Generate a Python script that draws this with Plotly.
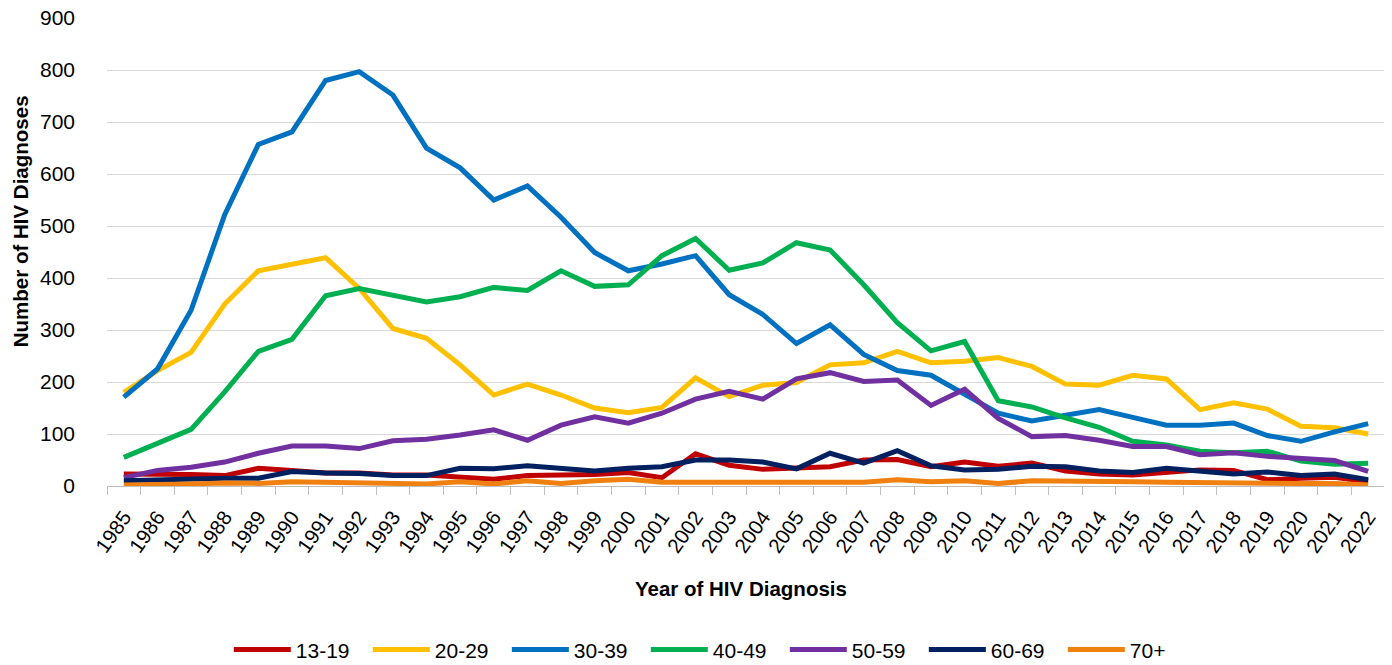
import plotly.graph_objects as go

years = [str(y) for y in range(1985, 2023)]

s13_19 = [23, 23, 22, 20, 34, 30, 25, 25, 21, 21, 17, 13, 20, 21, 22, 26, 16, 62, 40, 32, 35, 37, 50, 51, 37, 46,
          38, 44, 29, 23, 21, 27, 31, 30, 12, 15, 17, 8]
s20_29 = [180, 222, 257, 350, 414, 427, 439, 380, 303, 284, 233, 175, 196, 175, 150, 141, 151, 208, 172, 194, 199,
          233, 237, 259, 237, 240, 247, 230, 196, 194, 213, 206, 147, 160, 148, 115, 112, 100]
s30_39 = [171, 225, 338, 522, 657, 681, 780, 797, 752, 650, 612, 550, 577, 517, 449, 414, 427, 443, 368, 330, 274,
          310, 253, 222, 213, 177, 140, 125, 136, 147, 132, 117, 117, 121, 97, 86, 104, 120]
s40_49 = [55, 82, 109, 181, 259, 282, 366, 380, 367, 354, 364, 382, 376, 414, 384, 387, 443, 476, 415, 429, 468,
          454, 387, 314, 260, 278, 164, 152, 131, 113, 86, 79, 67, 64, 67, 48, 42, 44]
s50_59 = [16, 30, 36, 46, 63, 77, 77, 72, 87, 90, 98, 108, 88, 117, 133, 121, 140, 167, 182, 167, 206, 218, 201,
          204, 155, 186, 130, 95, 97, 88, 76, 76, 60, 64, 57, 52, 49, 28]
s60_69 = [10, 12, 13, 15, 15, 28, 25, 24, 20, 20, 34, 33, 39, 33, 29, 34, 37, 50, 50, 46, 33, 63, 44, 68, 39, 31,
          32, 38, 37, 29, 26, 34, 29, 23, 27, 20, 23, 12]
s70p = [2, 2, 4, 6, 5, 8, 7, 6, 7, 4, 8, 4, 10, 5, 10, 13, 7, 8, 7, 7, 7, 9, 7, 12, 8, 10, 5, 10, 10, 9, 8, 7, 6,
        6, 6, 5, 5, 2]

series = [
    ("13-19", s13_19, "#C00000"),
    ("20-29", s20_29, "#FFC000"),
    ("30-39", s30_39, "#0070C0"),
    ("40-49", s40_49, "#00B050"),
    ("50-59", s50_59, "#7030A0"),
    ("60-69", s60_69, "#002060"),
    ("70+", s70p, "#F08010"),
]

FONT = "Liberation Sans"

fig = go.Figure()
for name, vals, col in series:
    fig.add_trace(go.Scatter(x=years, y=vals, name=name, mode="lines",
                             line=dict(color=col, width=5)))

# page body has an 8px default margin, so the figure is sized to fit inside it
fig.update_layout(
    width=1384, height=657,
    margin=dict(l=99, r=7, t=10, b=179, autoexpand=False),
    plot_bgcolor="white", paper_bgcolor="white",
    font=dict(family=FONT, size=20, color="#000000"),
    showlegend=True,
    legend=dict(orientation="h", x=0.476, xanchor="center", y=-0.350, yanchor="middle",
                font=dict(size=21), itemwidth=57, entrywidth=67, entrywidthmode="pixels",
                tracegroupgap=0),
    xaxis=dict(type="category", range=[-0.5, 37.5], tickangle=-55, tickson="boundaries",
               ticks="outside", ticklen=8, tickcolor="#BFBFBF", showline=True, linecolor="#BFBFBF",
               linewidth=1, showgrid=False, tickfont=dict(size=20.5), automargin=False,
               ticklabelstandoff=10),
    yaxis=dict(range=[0, 900.2], tickmode="linear", tick0=0, dtick=100, showgrid=True,
               gridcolor="#D9D9D9", gridwidth=1, zeroline=False, showline=False,
               tickfont=dict(size=21), ticks="", ticklabelstandoff=31, automargin=False,
               ticklabeloverflow="allow"),
    annotations=[
        dict(text="<b>Year of HIV Diagnosis</b>", xref="paper", yref="paper", x=0.496, y=-0.218,
             xanchor="center", yanchor="middle", showarrow=False, font=dict(size=20.5)),
        dict(text="<b>Number of HIV Diagnoses</b>", xref="paper", yref="paper", x=-0.068, y=0.566,
             xanchor="center", yanchor="middle", showarrow=False, textangle=-90, font=dict(size=20.5)),
    ],
)

fig.write_html("out.html")
